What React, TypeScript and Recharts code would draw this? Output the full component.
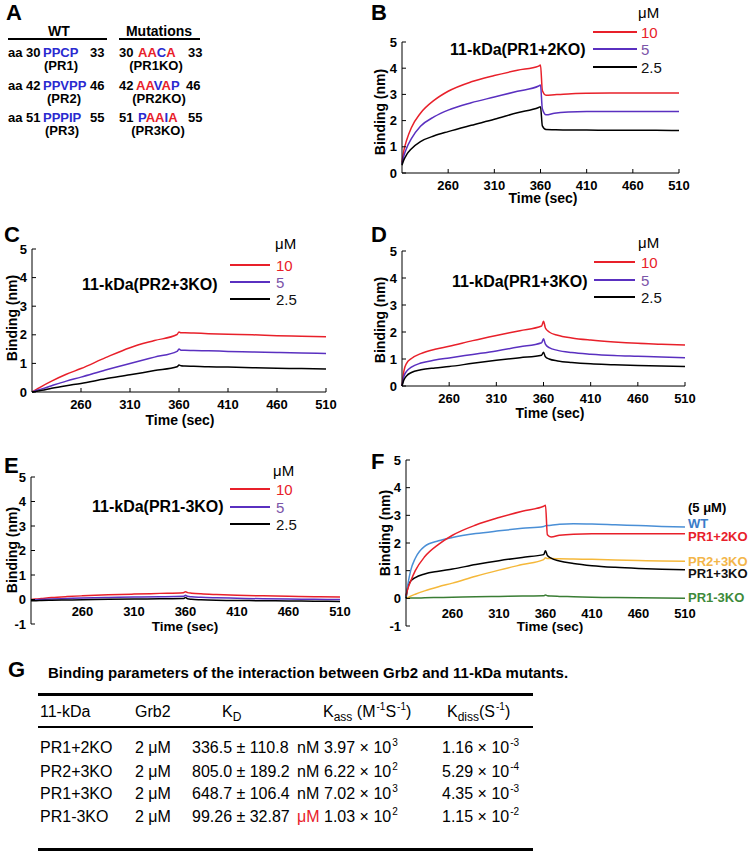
import React from 'react';
import { LineChart, Line, XAxis, YAxis } from 'recharts';

const FONT = '"Liberation Sans", Arial, Helvetica, sans-serif';

// sample times (sec) shared by every sensorgram
const TIME = [210, 212, 215, 220, 230, 245, 260, 285, 310, 335, 358, 360, 362, 366, 375, 390, 410, 435, 460, 485, 510];
const TIME_TICKS = [260, 310, 360, 410, 460, 510];
const Y_TICKS = [0, 1, 2, 3, 4, 5];
const Y_TICKS_NEG = [-1, 0, 1, 2, 3, 4, 5];

const CONC_LABELS = ['10', '5', '2.5'];
const CONC_LINE_COLORS = ['#e8202a', '#5a30c0', '#000000'];
const CONC_TEXT_COLORS = ['#e8202a', '#7b55a8', '#111111'];

// B: 11-kDa(PR1+2KO)
const B_10 = [0.4, 0.85, 1.25, 1.72, 2.28, 2.78, 3.12, 3.48, 3.72, 3.92, 4.08, 4.12, 3.15, 2.97, 2.99, 3.02, 3.04, 3.05, 3.05, 3.05, 3.05];
const B_5 = [0.35, 0.65, 0.95, 1.3, 1.78, 2.15, 2.4, 2.68, 2.9, 3.12, 3.32, 3.36, 2.45, 2.22, 2.28, 2.33, 2.35, 2.35, 2.35, 2.35, 2.35];
const B_25 = [0.3, 0.5, 0.7, 0.92, 1.2, 1.42, 1.58, 1.82, 2.05, 2.3, 2.5, 2.53, 1.8, 1.66, 1.65, 1.64, 1.64, 1.63, 1.63, 1.63, 1.62];

// C: 11-kDa(PR2+3KO)
const C_10 = [0, 0.04, 0.1, 0.2, 0.38, 0.62, 0.82, 1.2, 1.55, 1.8, 2.01, 2.1, 2.07, 2.07, 2.06, 2.04, 2.02, 2.0, 1.97, 1.95, 1.93];
const C_5 = [0, 0.02, 0.06, 0.11, 0.22, 0.38, 0.52, 0.77, 1.0, 1.22, 1.42, 1.5, 1.46, 1.46, 1.45, 1.44, 1.42, 1.4, 1.38, 1.36, 1.35];
const C_25 = [0, 0.01, 0.03, 0.06, 0.13, 0.22, 0.3, 0.46, 0.6, 0.75, 0.88, 0.94, 0.92, 0.91, 0.9, 0.88, 0.87, 0.85, 0.83, 0.82, 0.8];

// D: 11-kDa(PR1+3KO)
const D_10 = [0, 0.55, 0.85, 1.02, 1.2, 1.36, 1.47, 1.68, 1.87, 2.05, 2.22, 2.4, 2.15, 2.0, 1.88, 1.78, 1.7, 1.63, 1.58, 1.55, 1.52];
const D_5 = [0, 0.35, 0.55, 0.7, 0.85, 0.96, 1.04, 1.17, 1.3, 1.45, 1.6, 1.75, 1.55, 1.42, 1.32, 1.24, 1.18, 1.13, 1.1, 1.07, 1.05];
const D_25 = [0, 0.22, 0.38, 0.5, 0.6, 0.67, 0.72, 0.84, 0.95, 1.05, 1.14, 1.25, 1.08, 1.0, 0.93, 0.87, 0.82, 0.79, 0.76, 0.74, 0.72];

// E: 11-kDa(PR1-3KO)
const E_10 = [0, 0.01, 0.02, 0.04, 0.08, 0.12, 0.15, 0.19, 0.22, 0.25, 0.28, 0.32, 0.28, 0.26, 0.23, 0.2, 0.17, 0.15, 0.13, 0.11, 0.1];
const E_5 = [-0.02, -0.02, -0.01, 0, 0.02, 0.04, 0.06, 0.08, 0.1, 0.11, 0.13, 0.17, 0.13, 0.11, 0.09, 0.07, 0.05, 0.03, 0.02, 0.01, 0];
const E_25 = [-0.05, -0.05, -0.05, -0.04, -0.03, -0.02, -0.01, 0.01, 0.02, 0.03, 0.04, 0.08, 0.03, 0.01, -0.01, -0.03, -0.04, -0.05, -0.06, -0.07, -0.08];

// F: all constructs at 5 uM
const F_WT = [0.05, 0.5, 1.0, 1.45, 1.88, 2.08, 2.2, 2.34, 2.44, 2.53, 2.6, 2.62, 2.63, 2.64, 2.68, 2.7, 2.69, 2.66, 2.63, 2.6, 2.58];
const F_PR12 = [0.1, 0.35, 0.62, 1.0, 1.5, 1.95, 2.28, 2.65, 2.92, 3.15, 3.33, 3.36, 2.3, 2.22, 2.28, 2.32, 2.33, 2.33, 2.33, 2.33, 2.33];
const F_PR23 = [0, 0.03, 0.08, 0.15, 0.27, 0.42, 0.55, 0.8, 1.02, 1.22, 1.4, 1.47, 1.44, 1.44, 1.43, 1.42, 1.41, 1.39, 1.37, 1.35, 1.34];
const F_PR13 = [0, 0.4, 0.62, 0.75, 0.88, 0.98, 1.06, 1.22, 1.36, 1.48, 1.58, 1.72, 1.55, 1.45, 1.35, 1.26, 1.18, 1.12, 1.08, 1.05, 1.03];
const F_PR1_3 = [0, 0, 0.01, 0.01, 0.02, 0.03, 0.04, 0.06, 0.07, 0.08, 0.09, 0.12, 0.09, 0.08, 0.07, 0.06, 0.04, 0.03, 0.02, 0.01, 0];
const F_LABELS = ['WT', 'PR1+2KO', 'PR2+3KO', 'PR1+3KO', 'PR1-3KO'];
const F_LINE_COLORS = ['#4a8fd6', '#e8202a', '#f5b83a', '#000000', '#3a7d34'];
const F_TEXT_COLORS = ['#3a7cc9', '#e8202a', '#f3b64a', '#111111', '#3d8a3a'];

// G: table
const TABLE_MUTANTS = ['PR1+2KO', 'PR2+3KO', 'PR1+3KO', 'PR1-3KO'];
const TABLE_GRB2 = ['2 μM', '2 μM', '2 μM', '2 μM'];
const TABLE_KD = ['336.5 ± 110.8', '805.0 ± 189.2', '648.7 ± 106.4', '99.26 ± 32.87'];
const TABLE_KD_UNIT = ['nM', 'nM', 'nM', 'μM'];
const TABLE_KASS = ['3.97', '6.22', '7.02', '1.03'];
const TABLE_KASS_EXP = ['3', '2', '3', '2'];
const TABLE_KDISS = ['1.16', '5.29', '4.35', '1.15'];
const TABLE_KDISS_EXP = ['-3', '-4', '-3', '-2'];

const XTick = (props: any) => {
  const { x, y, payload, lift } = props;
  return (
    <g>
      {!lift && <line x1={x} y1={y} x2={x} y2={y - 4} stroke="#000" />}
      <text x={x} y={y + (lift ? -13 : 12)} dy="0.35em" textAnchor="middle" fontFamily={FONT} fontWeight="bold" fontSize={13} fill="#000">
        {payload.value}
      </text>
    </g>
  );
};

const YTick = (props: any) => {
  const { x, y, payload } = props;
  return (
    <g>
      <line x1={x} y1={y} x2={x + 4} y2={y} stroke="#000" />
      <text x={x - 5} y={y} dy="0.35em" textAnchor="end" fontFamily={FONT} fontWeight="bold" fontSize={13} fill="#000">
        {payload.value}
      </text>
    </g>
  );
};

const Plot = ({ box, yDomain, yTicks, series, colors, lift }: any) => {
  const data = TIME.map((t, i) => {
    const row: any = { t };
    series.forEach((s: number[], k: number) => (row['s' + k] = s[i]));
    return row;
  });
  return (
    <div style={{ position: 'absolute', left: box.x - 40, top: box.y - 10 }}>
      <LineChart width={box.w + 60} height={box.h + 50} data={data} margin={{ top: 10, right: 20, left: 10, bottom: 10 }}>
        <XAxis dataKey="t" type="number" domain={[210, 510]} ticks={TIME_TICKS} interval={0} height={30}
          tickSize={0} tickMargin={0} axisLine={lift ? false : { stroke: '#000' }} tick={(p: any) => <XTick {...p} lift={lift} />} />
        <YAxis type="number" domain={yDomain} ticks={yTicks} interval={0} width={30}
          tickSize={0} tickMargin={0} axisLine={{ stroke: '#000' }} tick={(p: any) => <YTick {...p} />} />
        {series.map((_: any, k: number) => (
          <Line key={k} dataKey={'s' + k} type="monotone" stroke={colors[k]} strokeWidth={1.5} dot={false} isAnimationActive={false} />
        ))}
      </LineChart>
    </div>
  );
};

const Txt = ({ x, y, children, anchor = 'start', size = 14, bold = false, color = '#000', rotate = false }: any) => {
  const tx = anchor === 'middle' ? '-50%' : anchor === 'end' ? '-100%' : '0';
  return (
    <div style={{
      position: 'absolute', left: x, top: y, whiteSpace: 'nowrap', lineHeight: 1, fontFamily: FONT,
      fontSize: size, fontWeight: bold ? 'bold' : 'normal', color,
      transform: `translate(${tx}, -50%)${rotate ? ' rotate(-90deg)' : ''}`,
    }}>
      {children}
    </div>
  );
};

const ConcLegend = ({ muX, muY, x1, x2, labelX, ys }: any) => (
  <>
    <Txt x={muX} y={muY} size={15}>μM</Txt>
    {CONC_LABELS.map((lab, i) => (
      <React.Fragment key={lab}>
        <div style={{ position: 'absolute', left: x1, top: ys[i] - 1, width: x2 - x1, height: 2, background: CONC_LINE_COLORS[i] }} />
        <Txt x={labelX} y={ys[i]} size={15} color={CONC_TEXT_COLORS[i]}>{lab}</Txt>
      </React.Fragment>
    ))}
  </>
);

const Letter = ({ x, y, children }: any) => <Txt x={x} y={y} size={22} bold>{children}</Txt>;

const BLUE = '#2a2ad0';
const RED = '#e8202a';

// mutated residue (changed from WT) drawn red, unchanged residue blue
const Seq = ({ x, y, wt, mut }: any) => (
  <div style={{ position: 'absolute', left: x, top: y, transform: 'translateY(-50%)', lineHeight: 1, fontFamily: FONT, fontSize: 13, fontWeight: 'bold', whiteSpace: 'nowrap' }}>
    {mut.split('').map((c: string, i: number) => (
      <span key={i} style={{ color: c === wt[i] ? BLUE : RED }}>{c}</span>
    ))}
  </div>
);

const MUT_ROWS = [
  { y: 52, wtStart: 'aa 30', wt: 'PPCP', wtEnd: '33', wtEndX: 90, wtLab: '(PR1)', wtLabX: 61, mStart: '30', mut: 'AACA', mX: 138, mEnd: '33', mEndX: 188, mLab: '(PR1KO)', mLabX: 156 },
  { y: 85, wtStart: 'aa 42', wt: 'PPVPP', wtEnd: '46', wtEndX: 90, wtLab: '(PR2)', wtLabX: 64, mStart: '42', mut: 'AAVAP', mX: 136, mEnd: '46', mEndX: 186, mLab: '(PR2KO)', mLabX: 159 },
  { y: 117, wtStart: 'aa 51', wt: 'PPPIP', wtEnd: '55', wtEndX: 90, wtLab: '(PR3)', wtLabX: 62, mStart: '51', mut: 'PAAIA', mX: 138, mEnd: '55', mEndX: 188, mLab: '(PR3KO)', mLabX: 158 },
];

const Sup = ({ children }: any) => (
  <span style={{ fontSize: 10, position: 'relative', top: -7, marginLeft: 1 }}>{children}</span>
);
const Sub = ({ children }: any) => (
  <span style={{ fontSize: 12, position: 'relative', top: 4 }}>{children}</span>
);

const App = () => {
  const rowY = [748, 772, 794, 817];
  return (
    <div style={{ position: 'absolute', left: 0, top: 0, width: 750, height: 852, background: '#fff', fontFamily: FONT, overflow: 'hidden' }}>
      {/* A */}
      <Letter x={6} y={13}>A</Letter>
      <Txt x={59} y={31} bold anchor="middle">WT</Txt>
      <div style={{ position: 'absolute', left: 8, top: 38, width: 99, height: 2, background: '#000' }} />
      <Txt x={159} y={31} bold anchor="middle">Mutations</Txt>
      <div style={{ position: 'absolute', left: 119, top: 38, width: 81, height: 2, background: '#000' }} />
      {MUT_ROWS.map((r) => (
        <React.Fragment key={r.wt}>
          <Txt x={8} y={r.y} size={13} bold>{r.wtStart}</Txt>
          <Txt x={43} y={r.y} size={13} bold color={BLUE}>{r.wt}</Txt>
          <Txt x={r.wtEndX} y={r.y} size={13} bold>{r.wtEnd}</Txt>
          <Txt x={r.wtLabX} y={r.y + 13} size={13} bold anchor="middle">{r.wtLab}</Txt>
          <Txt x={119} y={r.y} size={13} bold>{r.mStart}</Txt>
          <Seq x={r.mX} y={r.y} wt={r.wt} mut={r.mut} />
          <Txt x={r.mEndX} y={r.y} size={13} bold>{r.mEnd}</Txt>
          <Txt x={r.mLabX} y={r.y + 13} size={13} bold anchor="middle">{r.mLab}</Txt>
        </React.Fragment>
      ))}

      {/* B */}
      <Letter x={371} y={13}>B</Letter>
      <Plot box={{ x: 402, y: 42, w: 277, h: 131 }} yDomain={[0, 5]} yTicks={Y_TICKS} series={[B_10, B_5, B_25]} colors={CONC_LINE_COLORS} />
      <Txt x={450} y={50} size={16} bold>11-kDa(PR1+2KO)</Txt>
      <ConcLegend muX={638} muY={12} x1={593} x2={637} labelX={641} ys={[32, 49, 67]} />
      <Txt x={543} y={198} bold anchor="middle">Time (sec)</Txt>
      <Txt x={380} y={112} bold anchor="middle" rotate>Binding (nm)</Txt>

      {/* C */}
      <Letter x={4} y={235}>C</Letter>
      <Plot box={{ x: 32, y: 249, w: 294, h: 143 }} yDomain={[0, 5]} yTicks={Y_TICKS} series={[C_10, C_5, C_25]} colors={CONC_LINE_COLORS} />
      <Txt x={82} y={285} size={16} bold>11-kDa(PR2+3KO)</Txt>
      <ConcLegend muX={275} muY={243} x1={230} x2={270} labelX={276} ys={[265, 282, 299]} />
      <Txt x={180} y={420} bold anchor="middle">Time (sec)</Txt>
      <Txt x={12} y={318} bold anchor="middle" rotate>Binding (nm)</Txt>

      {/* D */}
      <Letter x={371} y={235}>D</Letter>
      <Plot box={{ x: 402, y: 251, w: 283, h: 135 }} yDomain={[0, 5]} yTicks={Y_TICKS} series={[D_10, D_5, D_25]} colors={CONC_LINE_COLORS} />
      <Txt x={452} y={282} size={16} bold>11-kDa(PR1+3KO)</Txt>
      <ConcLegend muX={638} muY={242} x1={594} x2={635} labelX={641} ys={[262, 280, 297]} />
      <Txt x={550} y={413} bold anchor="middle">Time (sec)</Txt>
      <Txt x={380} y={320} bold anchor="middle" rotate>Binding (nm)</Txt>

      {/* E */}
      <Letter x={4} y={466}>E</Letter>
      <Plot box={{ x: 31, y: 477, w: 309, h: 147 }} yDomain={[-1, 5]} yTicks={Y_TICKS_NEG} series={[E_10, E_5, E_25]} colors={CONC_LINE_COLORS} lift />
      <Txt x={92} y={507} size={16} bold>11-kDa(PR1-3KO)</Txt>
      <ConcLegend muX={273} muY={470} x1={230} x2={270} labelX={276} ys={[489, 507, 524]} />
      <Txt x={185} y={627} size={13.5} bold anchor="middle">Time (sec)</Txt>
      <Txt x={12} y={550} bold anchor="middle" rotate>Binding (nm)</Txt>

      {/* F */}
      <Letter x={371} y={462}>F</Letter>
      <Plot box={{ x: 406, y: 460, w: 279, h: 166 }} yDomain={[-1, 5]} yTicks={Y_TICKS_NEG}
        series={[F_PR1_3, F_PR23, F_PR13, F_WT, F_PR12]}
        colors={[F_LINE_COLORS[4], F_LINE_COLORS[2], F_LINE_COLORS[3], F_LINE_COLORS[0], F_LINE_COLORS[1]]} lift />
      <Txt x={688} y={507} size={13} bold>(5 μM)</Txt>
      {F_LABELS.map((lab, i) => (
        <Txt key={lab} x={688} y={[523, 536, 561, 573, 597][i]} size={13} bold color={F_TEXT_COLORS[i]}>{lab}</Txt>
      ))}
      <Txt x={550} y={627} size={13.5} bold anchor="middle">Time (sec)</Txt>
      <Txt x={385} y={533} bold anchor="middle" rotate>Binding (nm)</Txt>

      {/* G */}
      <Letter x={8} y={670}>G</Letter>
      <Txt x={48} y={672} size={15} bold>Binding parameters of the interaction between Grb2 and 11-kDa mutants.</Txt>
      <div style={{ position: 'absolute', left: 38, top: 693, width: 495, height: 2.5, background: '#000' }} />
      <div style={{ position: 'absolute', left: 38, top: 726, width: 495, height: 2, background: '#000' }} />
      <div style={{ position: 'absolute', left: 38, top: 848, width: 495, height: 2.5, background: '#000' }} />
      <Txt x={40} y={712} size={16}>11-kDa</Txt>
      <Txt x={135} y={712} size={16}>Grb2</Txt>
      <Txt x={222} y={712} size={16}>K<Sub>D</Sub></Txt>
      <Txt x={323} y={712} size={16}>K<Sub>ass</Sub> (M<Sup>-1</Sup>S<Sup>-1</Sup>)</Txt>
      <Txt x={447} y={712} size={16}>K<Sub>diss</Sub>(S<Sup>-1</Sup>)</Txt>
      {TABLE_MUTANTS.map((m, i) => (
        <React.Fragment key={m}>
          <Txt x={40} y={rowY[i]} size={16}>{m}</Txt>
          <Txt x={135} y={rowY[i]} size={16}>{TABLE_GRB2[i]}</Txt>
          <Txt x={192} y={rowY[i]} size={16}>{TABLE_KD[i]}</Txt>
          <Txt x={297} y={rowY[i]} size={16} color={TABLE_KD_UNIT[i] === 'μM' ? RED : '#000'}>{TABLE_KD_UNIT[i]}</Txt>
          <Txt x={324} y={rowY[i]} size={16}>{TABLE_KASS[i]} × 10<Sup>{TABLE_KASS_EXP[i]}</Sup></Txt>
          <Txt x={442} y={rowY[i]} size={16}>{TABLE_KDISS[i]} × 10<Sup>{TABLE_KDISS_EXP[i]}</Sup></Txt>
        </React.Fragment>
      ))}
    </div>
  );
};

export default App;
